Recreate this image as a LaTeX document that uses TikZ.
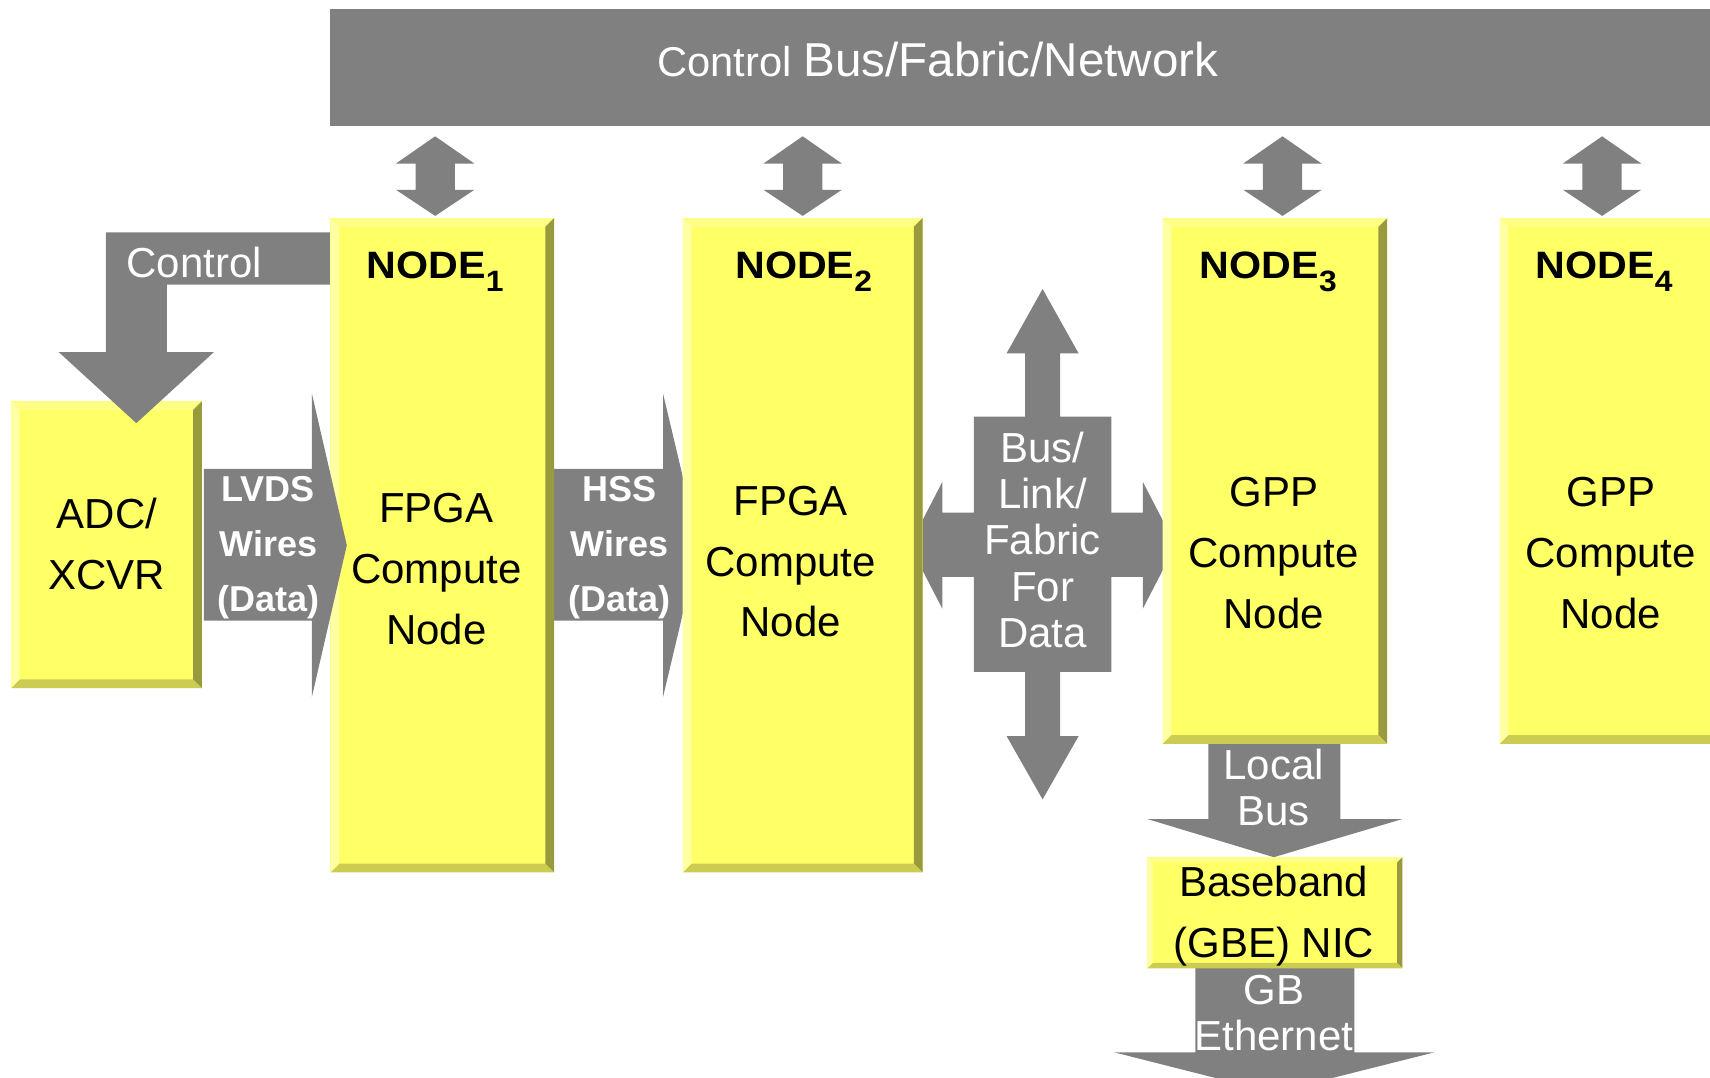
\documentclass[tikz,border=0pt]{standalone}
\usepackage{fontspec}
\usepackage{graphicx}
\setmainfont{Liberation Sans}
\usetikzlibrary{fit}

\definecolor{arrowgray}{HTML}{808080}
\definecolor{boxface}{HTML}{FFFF66}
\definecolor{bevlight}{HTML}{FFFFA3}
\definecolor{bevtop}{HTML}{FFFF85}
\definecolor{bevdark}{HTML}{99993D}
\definecolor{bevbottom}{HTML}{CCCC52}

% bevelled yellow block drawn inside a named (fit) node: #1 node, #2 bevel width
\newcommand\bevel[2]{%
  \fill[boxface] (#1.north west) rectangle (#1.south east);
  \fill[bevtop] (#1.north west) -- (#1.north east) -- ([shift={(-#2,#2)}]#1.north east) -- ([shift={(#2,#2)}]#1.north west) -- cycle;
  \fill[bevdark] (#1.north east) -- (#1.south east) -- ([shift={(-#2,-#2)}]#1.south east) -- ([shift={(-#2,#2)}]#1.north east) -- cycle;
  \fill[bevbottom] (#1.south east) -- (#1.south west) -- ([shift={(#2,-#2)}]#1.south west) -- ([shift={(-#2,-#2)}]#1.south east) -- cycle;
  \fill[bevlight] (#1.south west) -- (#1.north west) -- ([shift={(#2,#2)}]#1.north west) -- ([shift={(#2,-#2)}]#1.south west) -- cycle;
}

% two-headed vertical link between the control bus and a node, centred at x = #1
\newcommand\buslink[1]{%
  \fill[arrowgray] (#1,125) -- (#1+36,150) -- (#1+18,150) -- (#1+18,174) -- (#1+36,174)
    -- (#1,198) -- (#1-36,174) -- (#1-18,174) -- (#1-18,150) -- (#1-36,150) -- cycle;
}

\newcommand\nsub[1]{\raisebox{-6pt}{\fontsize{13.5}{13.5}\selectfont #1}}

\begin{document}
\begin{tikzpicture}[x=0.5pt, y=-0.5pt,
  boxarea/.style={inner sep=0pt, outer sep=0pt},
  intext/.style={align=center, text=black, inner sep=0pt, font=\fontsize{19.25}{27.9}\selectfont},
  wlabel/.style={align=center, text=white, inner sep=0pt, font=\fontsize{19.25}{21.4}\selectfont},
  wbold/.style={align=center, text=white, inner sep=0pt, font=\fontsize{16.5}{25.2}\selectfont\bfseries},
  ntitle/.style={anchor=base, inner sep=0pt, text=black, font=\fontsize{17.5}{20}\selectfont\bfseries}]

\clip (0,0) rectangle (1568,988);

% control bus across the top
\node[boxarea, fill=arrowgray, fit={(303,8)(1600,116)}] (bus) {};
\buslink{399}
\buslink{736}
\buslink{1176}
\buslink{1469}

% converter block and the control arrow into it
\node[boxarea, fit={(10,368)(185,631)}] (adc) {};
\bevel{adc}{8}
\fill[arrowgray] (97,213) -- (303,213) -- (303,261) -- (153,261) -- (153,323) -- (196,323)
  -- (125,388) -- (54,323) -- (97,323) -- cycle;

% HSS wires, partly hidden under the two FPGA nodes
\fill[arrowgray] (500,430) -- (608,430) -- (608,361) -- (641,500) -- (608,639) -- (608,569)
  -- (500,569) -- cycle;

% four-way data fabric arrow, its side tips hidden under the neighbouring nodes
\fill[arrowgray] (956,265) -- (989,324) -- (972,324) -- (972,382) -- (1019,382) -- (1019,470)
  -- (1048,470) -- (1048,442) -- (1078,500) -- (1048,558) -- (1048,529) -- (1019,529)
  -- (1019,616) -- (972,616) -- (972,675) -- (989,675) -- (956,733) -- (923,675)
  -- (940,675) -- (940,616) -- (893,616) -- (893,529) -- (864,529) -- (864,558)
  -- (834,500) -- (864,442) -- (864,470) -- (893,470) -- (893,382) -- (940,382)
  -- (940,324) -- (923,324) -- cycle;

% FPGA node 1 and the LVDS wires over its edge
\node[boxarea, fit={(303,200)(508,800)}] (fpgaA) {};
\bevel{fpgaA}{8}
\fill[arrowgray] (187,430) -- (286,430) -- (286,361) -- (318,500) -- (286,639) -- (286,569)
  -- (187,569) -- cycle;

% FPGA node 2
\node[boxarea, fit={(626,200)(846,800)}] (fpgaB) {};
\bevel{fpgaB}{8}

% local bus and GB Ethernet arrows
\fill[arrowgray] (1108,670) -- (1229,670) -- (1229,751) -- (1286,751) -- (1168,786)
  -- (1052,751) -- (1108,751) -- cycle;
\fill[arrowgray] (1096,880) -- (1242,880) -- (1242,965) -- (1315,965) -- (1168,1002)
  -- (1022,965) -- (1096,965) -- cycle;

% GPP nodes and the NIC
\node[boxarea, fit={(1066,200)(1272,682)}] (gppA) {};
\bevel{gppA}{8}
\node[boxarea, fit={(1375,200)(1610,682)}] (gppB) {};
\bevel{gppB}{8}
\node[boxarea, fit={(1052,786)(1286,888)}] (nic) {};
\bevel{nic}{5}

% texts
\node[anchor=base, text=white, inner sep=0pt] (bustxt) at (860,70)
  {\fontsize{19.1}{22}\selectfont Control {\fontsize{21.8}{24}\selectfont Bus/Fabric/Network}};
\node[wlabel] (ctrltxt) at (178,241) {Control};
\node[intext] (adctxt) at (98,499) {ADC/\\XCVR};
\node[wbold] (lvdstxt) at (246,502) {LVDS\\Wires\\(Data)};
\node[wbold] (hsstxt) at (568,502) {HSS\\Wires\\(Data)};
\node[ntitle] (tA) at (399,255) {\scalebox{1.08}[1]{NODE\nsub{1}}};
\node[ntitle] (tB) at (737,255) {\scalebox{1.08}[1]{NODE\nsub{2}}};
\node[ntitle] (tC) at (1163,255) {\scalebox{1.08}[1]{NODE\nsub{3}}};
\node[ntitle] (tD) at (1471,255) {\scalebox{1.08}[1]{NODE\nsub{4}}};
\node[intext] (fA) at (400,522) {FPGA\\Compute\\Node};
\node[intext] (fB) at (725,515) {FPGA\\Compute\\Node};
\node[intext] (gA) at (1168,507) {GPP\\Compute\\Node};
\node[intext] (gB) at (1477,507) {GPP\\Compute\\Node};
\node[wlabel, font=\fontsize{19.25}{21.25}\selectfont] (fabtxt) at (956,495) {Bus/\\Link/\\Fabric\\For\\Data};
\node[wlabel] (localtxt) at (1168,722) {Local\\Bus};
\node[intext] (nictxt) at (1168,840) {Baseband\\(GBE) NIC};
\node[wlabel] (gbtxt) at (1168,929) {GB\\Ethernet};
\end{tikzpicture}
\end{document}
